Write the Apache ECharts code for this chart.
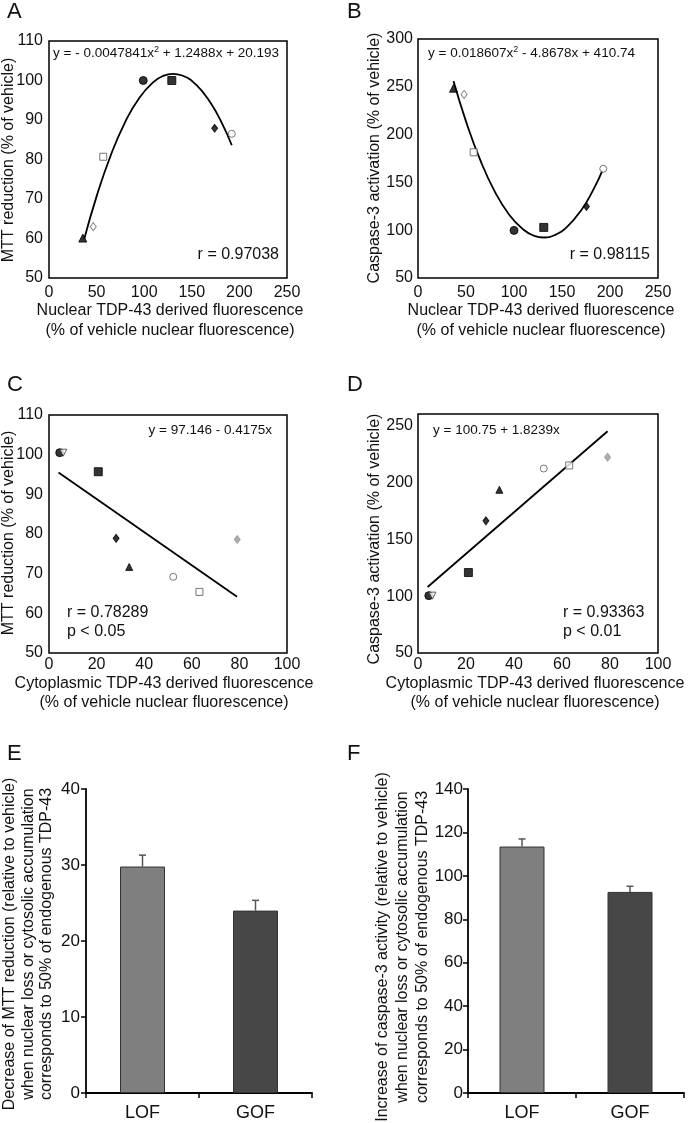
<!DOCTYPE html>
<html><head><meta charset="utf-8">
<script src="https://cdn.jsdelivr.net/npm/echarts@6/dist/echarts.min.js"></script>
<style>html,body{margin:0;padding:0;background:#fff}#c{width:693px;height:1123px}</style>
</head><body><div id="c"></div>
<script>
// ---- Panel A: nuclear fluorescence vs MTT reduction ----
const nuclearA = [35.5, 46.5, 57, 99, 129, 174, 192];
const mttA = [60.1, 63.0, 80.7, 100.0, 100.0, 87.9, 86.5];
const fitAx = [37, 50, 65, 80, 95, 110, 120, 130, 140, 155, 170, 182, 192];
const fitAy = [59.85, 70.67, 81.15, 89.48, 95.65, 99.67, 101.16, 101.69, 101.26, 98.82, 94.23, 89.01, 83.60];
// ---- Panel B: nuclear fluorescence vs caspase-3 activation ----
const nuclearB = [37, 48, 58, 100, 131, 175.5, 193];
const caspB = [248.5, 242, 181.5, 99.8, 102.9, 124.9, 164.3];
const fitBx = [37, 50, 65, 80, 95, 110, 120, 131, 142, 155, 170, 182, 192];
const fitBy = [256.10, 213.87, 172.95, 140.40, 116.23, 100.43, 94.55, 92.37, 94.70, 103.26, 120.96, 141.14, 162.05];
// ---- Panel C: cytoplasmic fluorescence vs MTT reduction ----
const cytoC = [4.5, 6, 20.7, 28.2, 33.7, 52.2, 63.2, 79.1];
const mttC = [100.5, 100.5, 95.7, 78.9, 71.7, 69.2, 65.4, 78.6];
const fitCx = [4, 79];
const fitCy = [95.5, 64.2];
// ---- Panel D: cytoplasmic fluorescence vs caspase-3 activation ----
const cytoD = [4.5, 6, 21, 28.3, 33.9, 52.4, 63, 79];
const caspD = [100.4, 100.4, 120.7, 166.1, 193.4, 212.1, 214.8, 222.1];
const fitDx = [4, 79];
const fitDy = [108.0, 244.8];
// ---- Panels E / F: bars ----
const barCats = ['LOF', 'GOF'];
const mttDecrease = [29.8, 24.0];
const mttDecreaseErr = [1.5, 1.35];
const caspIncrease = [113.5, 92.6];
const caspIncreaseErr = [3.5, 2.6];

const FONT = 'Liberation Sans, Arial, sans-serif';
const TXT = '#111';

// marker styles (A/B order, then C/D order)
const markAB = [
  {s:'triangle', z:8, f:'#000', b:'#000'},
  {s:'diamond', z:[6,8], f:'#fff', b:'#666'},
  {s:'rect', z:7, f:'#fff', b:'#555'},
  {s:'circle', z:8, f:'#000', b:'#000'},
  {s:'rect', z:8, f:'#000', b:'#000'},
  {s:'diamond', z:[6,8], f:'#000', b:'#000'},
  {s:'circle', z:7, f:'#fff', b:'#555'}
];
const markCD = [
  {s:'circle', z:8, f:'#000', b:'#000'},
  {s:'triangle', z:7, f:'#fff', b:'#333', r:180},
  {s:'rect', z:8, f:'#000', b:'#000'},
  {s:'diamond', z:[6,8], f:'#000', b:'#000'},
  {s:'triangle', z:7, f:'#000', b:'#000'},
  {s:'circle', z:7, f:'#fff', b:'#555'},
  {s:'rect', z:7, f:'#fff', b:'#555'},
  {s:'diamond', z:[6,8], f:'#999', b:'#999'}
];
function pts(xs, ys, marks){
  return xs.map((x,i)=>({value:[x, ys[i]], symbol:marks[i].s, symbolSize:marks[i].z,
    symbolRotate: marks[i].r || 0,
    itemStyle:{color:marks[i].f, borderColor:marks[i].b, borderWidth:1}}));
}
function line(xs, ys){ return xs.map((x,i)=>[x, ys[i]]); }

const gridBox = {show:true, borderColor:'#000', borderWidth:1.5, backgroundColor:'transparent'};
function valAxis(gi, min, max, interval, margin, extra){
  return Object.assign({type:'value', gridIndex:gi, min, max, interval,
    axisLine:{show:false}, axisTick:{show:false}, splitLine:{show:false},
    axisLabel:{color:TXT, fontSize:16, fontFamily:FONT, margin}}, extra||{});
}
const barAxisLine = {show:true, lineStyle:{color:'#000', width:1.8}};
const barTick = {show:true, length:5, lineStyle:{color:'#000', width:1.5}};

function errRender(params, api){
  const i = api.value(0), v = api.value(1), e = api.value(2);
  const b = api.coord([i, v]), t = api.coord([i, v+e]);
  const st = {stroke:'#555', lineWidth:1.5};
  return {type:'group', children:[
    {type:'line', shape:{x1:b[0], y1:b[1], x2:t[0], y2:t[1]}, style:st},
    {type:'line', shape:{x1:t[0]-3.5, y1:t[1], x2:t[0]+3.5, y2:t[1]}, style:st}
  ]};
}
const barColors = ['#7f7f7f', '#474747'];
function bars(vals){ return vals.map((v,i)=>({value:v, itemStyle:{color:barColors[i], borderColor:'#333', borderWidth:1}})); }

function T(x, y, text, size, opts){
  return Object.assign({type:'text', x, y, style:Object.assign({text, fontSize:size, fontFamily:FONT, fill:TXT,
    align:'left', verticalAlign:'middle'}, (opts&&opts.style)||{})}, (opts&&opts.el)||{});
}
const sup = {rich:{sup:{fontSize:9, fontFamily:FONT, fill:TXT, verticalAlign:'top', lineHeight:16}}, lineHeight:16};
const rot = Math.PI/2;

const option = {
  animation:false,
  grid:[
    Object.assign({left:49, top:41, width:238, height:237}, gridBox),
    Object.assign({left:418, top:39, width:240, height:239}, gridBox),
    Object.assign({left:49, top:415, width:238, height:238}, gridBox),
    Object.assign({left:418, top:414, width:240, height:239}, gridBox),
    {left:86, top:789, width:226, height:304},
    {left:468, top:789, width:216, height:304}
  ],
  xAxis:[
    valAxis(0, 0, 250, 50, 7),
    valAxis(1, 0, 250, 50, 7),
    valAxis(2, 0, 100, 20, 4),
    valAxis(3, 0, 100, 20, 4),
    {type:'category', gridIndex:4, data:barCats, axisLine:barAxisLine, axisTick:barTick,
      axisLabel:{color:TXT, fontSize:18, fontFamily:FONT, margin:11}},
    {type:'category', gridIndex:5, data:barCats, axisLine:barAxisLine, axisTick:barTick,
      axisLabel:{color:TXT, fontSize:18, fontFamily:FONT, margin:11}}
  ],
  yAxis:[
    valAxis(0, 50, 110, 10, 6),
    valAxis(1, 50, 300, 50, 5),
    valAxis(2, 50, 110, 10, 6),
    valAxis(3, 50, 260, 50, 5, {}),
    {type:'value', gridIndex:4, min:0, max:40, interval:10, axisLine:barAxisLine, axisTick:barTick,
      splitLine:{show:false}, axisLabel:{color:TXT, fontSize:17, fontFamily:FONT, margin:6}},
    {type:'value', gridIndex:5, min:0, max:140, interval:20, axisLine:barAxisLine, axisTick:barTick,
      splitLine:{show:false}, axisLabel:{color:TXT, fontSize:17, fontFamily:FONT, margin:5}}
  ],
  series:[
    {type:'line', xAxisIndex:0, yAxisIndex:0, data:line(fitAx, fitAy), smooth:true, symbol:'none', lineStyle:{color:'#000', width:1.8}, z:1},
    {type:'scatter', xAxisIndex:0, yAxisIndex:0, data:pts(nuclearA, mttA, markAB), z:3},
    {type:'line', xAxisIndex:1, yAxisIndex:1, data:line(fitBx, fitBy), smooth:true, symbol:'none', lineStyle:{color:'#000', width:1.8}, z:1},
    {type:'scatter', xAxisIndex:1, yAxisIndex:1, data:pts(nuclearB, caspB, markAB), z:3},
    {type:'line', xAxisIndex:2, yAxisIndex:2, data:line(fitCx, fitCy), symbol:'none', lineStyle:{color:'#000', width:1.8}, z:1},
    {type:'scatter', xAxisIndex:2, yAxisIndex:2, data:pts(cytoC, mttC, markCD), z:3},
    {type:'line', xAxisIndex:3, yAxisIndex:3, data:line(fitDx, fitDy), symbol:'none', lineStyle:{color:'#000', width:1.8}, z:1},
    {type:'scatter', xAxisIndex:3, yAxisIndex:3, data:pts(cytoD, caspD, markCD), z:3},
    {type:'bar', xAxisIndex:4, yAxisIndex:4, data:bars(mttDecrease), barWidth:45},
    {type:'custom', xAxisIndex:4, yAxisIndex:4, renderItem:errRender, encode:{x:0, y:1},
      data:barCats.map((c,i)=>[i, mttDecrease[i], mttDecreaseErr[i]]), z:5},
    {type:'bar', xAxisIndex:5, yAxisIndex:5, data:bars(caspIncrease), barWidth:45},
    {type:'custom', xAxisIndex:5, yAxisIndex:5, renderItem:errRender, encode:{x:0, y:1},
      data:barCats.map((c,i)=>[i, caspIncrease[i], caspIncreaseErr[i]]), z:5}
  ],
  graphic:[
    // panel letters
    T(7, 12, 'A', 22), T(347, 12, 'B', 22), T(7, 385, 'C', 22), T(347, 385, 'D', 22),
    T(7, 754, 'E', 22), T(347, 754, 'F', 22),
    // equations & stats
    T(53, 53, 'y = - 0.0047841x{sup|2} + 1.2488x + 20.193', 13.5, {style:sup}),
    T(279, 255, 'r = 0.97038', 16, {style:{align:'right'}}),
    T(428, 53, 'y = 0.018607x{sup|2} - 4.8678x + 410.74', 13.5, {style:sup}),
    T(650, 255, 'r = 0.98115', 16, {style:{align:'right'}}),
    T(272, 430, 'y = 97.146 - 0.4175x', 13.5, {style:{align:'right'}}),
    T(67, 613, 'r = 0.78289', 16), T(67, 632, 'p < 0.05', 16),
    T(433, 430, 'y = 100.75 + 1.8239x', 13.5),
    T(563, 613, 'r = 0.93363', 16), T(563, 632, 'p < 0.01', 16),
    // axis titles
    T(8.5, 160, 'MTT reduction (% of vehicle)', 16, {style:{align:'center'}, el:{rotation:rot}}),
    T(375, 158, 'Caspase-3 activation (% of vehicle)', 16, {style:{align:'center'}, el:{rotation:rot}}),
    T(8.5, 533, 'MTT reduction (% of vehicle)', 16, {style:{align:'center'}, el:{rotation:rot}}),
    T(375, 539, 'Caspase-3 activation (% of vehicle)', 16, {style:{align:'center'}, el:{rotation:rot}}),
    T(170, 321, 'Nuclear TDP-43 derived fluorescence\n(% of vehicle nuclear fluorescence)', 16, {style:{align:'center', lineHeight:20}}),
    T(541, 321, 'Nuclear TDP-43 derived fluorescence\n(% of vehicle nuclear fluorescence)', 16, {style:{align:'center', lineHeight:20}}),
    T(164, 693, 'Cytoplasmic TDP-43 derived fluorescence\n(% of vehicle nuclear fluorescence)', 16, {style:{align:'center', lineHeight:19}}),
    T(535, 693, 'Cytoplasmic TDP-43 derived fluorescence\n(% of vehicle nuclear fluorescence)', 16, {style:{align:'center', lineHeight:19}}),
    T(28.3, 944, 'Decrease of MTT reduction (relative to vehicle)\nwhen nuclear loss or cytosolic accumulation\ncorresponds to 50% of endogenous TDP-43', 16, {style:{align:'center', lineHeight:18.3}, el:{rotation:rot}}),
    T(403, 947, 'Increase of caspase-3 activity (relative to vehicle)\nwhen nuclear loss or cytosolic accumulation\ncorresponds to 50% of endogenous TDP-43', 16, {style:{align:'center', lineHeight:20}, el:{rotation:rot}})
  ]
};
option.yAxis[3].axisLabel.showMaxLabel = false;
const chart = echarts.init(document.getElementById('c'), null, {renderer:'canvas'});
chart.setOption(option);
</script></body></html>
